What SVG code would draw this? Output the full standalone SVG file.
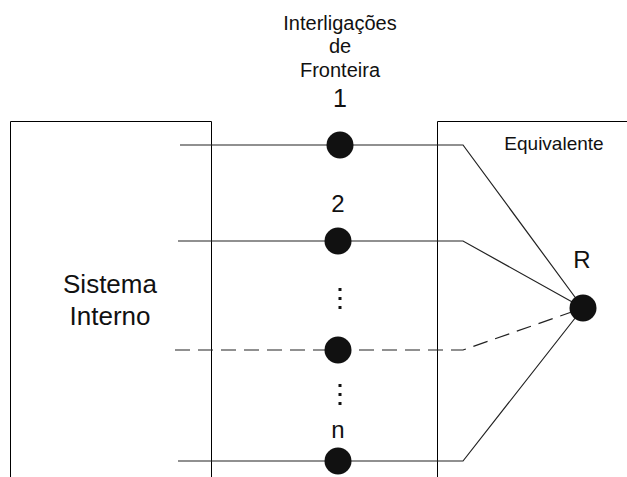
<svg xmlns="http://www.w3.org/2000/svg" width="627" height="477" viewBox="0 0 627 477">
  <style>
    .box { fill: none; stroke: #000; stroke-width: 1; }
    .wire { fill: none; stroke: #222; stroke-width: 1.2; }
    .dash { stroke-dasharray: 15 8; }
    .bus { fill: #111; }
    .lbl { font-family: "Liberation Sans", Arial, sans-serif; fill: #111; text-anchor: middle; }
  </style>
  <rect width="627" height="477" fill="#fff"/>

  <!-- system boundaries -->
  <g id="sistema-interno">
    <polyline class="box" points="10.5,477 10.5,121.5 211.5,121.5 211.5,477"/>
    <text class="lbl" x="110" y="293" font-size="26">Sistema</text>
    <text class="lbl" x="110" y="325" font-size="26">Interno</text>
  </g>
  <g id="equivalente">
    <polyline class="box" points="437.5,477 437.5,121.5 627,121.5"/>
    <text class="lbl" x="554" y="150" font-size="19">Equivalente</text>
  </g>

  <!-- header -->
  <g id="titulo">
    <text class="lbl" x="340" y="30" font-size="20">Interligações</text>
    <text class="lbl" x="340" y="53" font-size="20">de</text>
    <text class="lbl" x="340" y="77" font-size="20">Fronteira</text>
  </g>

  <!-- connectors -->
  <g id="connectors">
    <polyline class="wire" points="180,145 463,145 583,308"/>
    <polyline class="wire" points="178,241 463,241 583,308"/>
    <polyline class="wire dash" points="175,350 463,350 583,308"/>
    <polyline class="wire" points="178,461 463,461 583,308"/>
  </g>

  <!-- boundary buses -->
  <g id="barra-1">
    <circle class="bus" cx="340" cy="145" r="13.5"/>
    <text class="lbl" x="340" y="107" font-size="25">1</text>
  </g>
  <g id="barra-2">
    <circle class="bus" cx="338" cy="241" r="13.5"/>
    <text class="lbl" x="338" y="212" font-size="24">2</text>
  </g>
  <g id="reticencias-1">
    <rect class="bus" x="338.5" y="288" width="3" height="3"/>
    <rect class="bus" x="338.5" y="297" width="3" height="3"/>
    <rect class="bus" x="338.5" y="306" width="3" height="3"/>
  </g>
  <g id="barra-k">
    <circle class="bus" cx="338" cy="350" r="13.5"/>
  </g>
  <g id="reticencias-2">
    <rect class="bus" x="338.5" y="384" width="3" height="3"/>
    <rect class="bus" x="338.5" y="393" width="3" height="3"/>
    <rect class="bus" x="338.5" y="402" width="3" height="3"/>
  </g>
  <g id="barra-n">
    <circle class="bus" cx="338" cy="461" r="13.5"/>
    <text class="lbl" x="338" y="438" font-size="24">n</text>
  </g>
  <g id="barra-R">
    <circle class="bus" cx="583" cy="308" r="13.5"/>
    <text class="lbl" x="582" y="268" font-size="24">R</text>
  </g>
</svg>
